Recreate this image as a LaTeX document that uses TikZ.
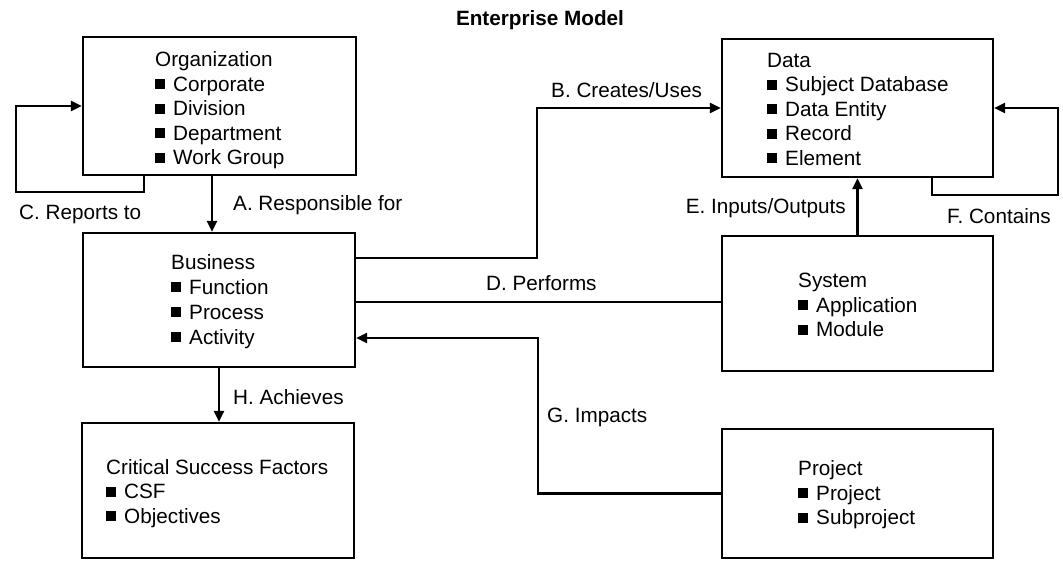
\documentclass[tikz,border=0pt]{standalone}
\usepackage{fontspec}
\setmainfont{Liberation Sans}
\usetikzlibrary{arrows.meta}
\newcommand\bul{\rule[2pt]{10pt}{10pt}\hspace{8pt}}
\tikzset{
  box/.style={draw, line width=2.2pt, rectangle, inner sep=0pt},
  txt/.style={inner sep=0pt, align=left, font=\fontsize{20.7}{24.5}\selectfont},
  lbl/.style={inner sep=0pt, font=\fontsize{20.7}{24.5}\selectfont},
  con/.style={line width=2.2pt},
  arr/.style={con, -{Triangle[length=11pt,width=10pt]}}
}
\begin{document}
\begin{tikzpicture}[x=1pt,y=-1pt]
\useasboundingbox (0,0) rectangle (1063,560);
% boxes
\node[box, minimum width=273pt, minimum height=138pt] (org) at (219.5,106) {};
\node[box, minimum width=272pt, minimum height=134pt] (bus) at (219,300) {};
\node[box, minimum width=272pt, minimum height=135pt] (csf) at (218,490.5) {};
\node[box, minimum width=271pt, minimum height=138pt] (data) at (857.5,108) {};
\node[box, minimum width=271pt, minimum height=135pt] (sys) at (857.5,303.5) {};
\node[box, minimum width=271pt, minimum height=129pt] (proj) at (857.5,493.5) {};
% box texts (anchor = baseline of last line)
\node[txt, anchor=base west] (orgt) at (155,164.5) {Organization\\\bul Corporate\\\bul Division\\\bul Department\\\bul Work Group};
\node[txt, anchor=base west] (datat) at (767,165) {Data\\\bul Subject Database\\\bul Data Entity\\\bul Record\\\bul Element};
\node[txt, anchor=base west, font=\fontsize{20.7}{25}\selectfont] (bust) at (171,344) {Business\\\bul Function\\\bul Process\\\bul Activity};
\node[txt, anchor=base west] (syst) at (798,336.5) {System\\\bul Application\\\bul Module};
\node[txt, anchor=base west] (csft) at (106,523) {Critical Success Factors\\\bul CSF\\\bul Objectives};
\node[txt, anchor=base west] (projt) at (798,524.5) {Project\\\bul Project\\\bul Subproject};
% title
\node[lbl, anchor=base, font=\fontsize{20.7}{24.5}\selectfont\bfseries] (title) at (540,25.5) {Enterprise Model};
% helper coordinates
\coordinate (cl) at (16,192);
\coordinate (bx) at (537,0);
\coordinate (gx) at (538,0);
\coordinate (fr) at (1058,195);
\coordinate (bg) at ([yshift=-38pt]bus.east);
% connectors
\draw[arr] ([xshift=-7.5pt]org.south) -- ([xshift=-7.5pt]org.south |- bus.north);
\draw[arr] ([xshift=-75.5pt]org.south) |- (cl) |- (org.west);
\draw[arr] ([yshift=42pt]bus.east) -| (bx |- data.west) -- (data.west);
\draw[con] ([yshift=-2pt]bus.east) -- ([yshift=-2pt]bus.east -| sys.west);
\draw[arr] (sys.north) -- (data.south);
\draw[arr] ([xshift=74.5pt]data.south) |- (fr) |- (data.east);
\draw[arr] (proj.west) -| (gx |- bg) -- (bg);
\draw[arr] (bus.south) -- (bus.south |- csf.north);
% labels
\node[lbl, anchor=base west] (lc) at (19,219.5) {C. Reports to};
\node[lbl, anchor=base west] (la) at (233,210.5) {A. Responsible for};
\node[lbl, anchor=base west] (lb) at (551,97.5) {B. Creates/Uses};
\node[lbl, anchor=base west] (ld) at (486,290.5) {D. Performs};
\node[lbl, anchor=base east] (le) at (846,213.5) {E. Inputs/Outputs};
\node[lbl, anchor=base west] (lf) at (947,223.5) {F. Contains};
\node[lbl, anchor=base west] (lg) at (547,422.5) {G. Impacts};
\node[lbl, anchor=base west] (lh) at (233,404.5) {H. Achieves};
\end{tikzpicture}
\end{document}
